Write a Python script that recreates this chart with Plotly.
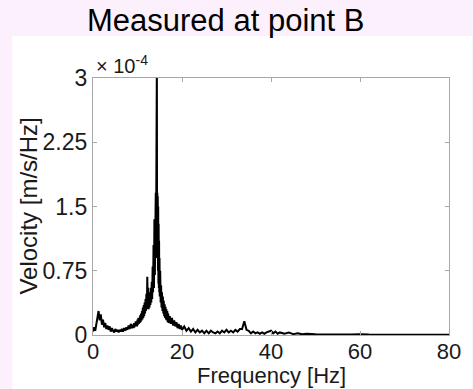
import plotly.graph_objects as go

# Frequency [Hz]
freq = [0.0, 0.25, 0.5, 0.75, 1.0, 1.25, 1.5, 1.75, 2.0, 2.25, 2.5, 2.75, 3.0, 3.25, 3.5, 3.75,
        4.0, 4.25, 4.5, 4.75, 5.0, 5.25, 5.5, 5.75, 6.0, 6.25, 6.5, 6.75, 7.0, 7.25, 7.5, 7.75,
        8.0, 8.25, 8.5, 8.75,
        9.0, 9.1, 9.2, 9.3, 9.4, 9.5, 9.6, 9.7, 9.8, 9.9,
        10.0, 10.1, 10.2, 10.3, 10.4, 10.5, 10.6, 10.7, 10.8, 10.9,
        11.0, 11.1, 11.2, 11.3, 11.4, 11.5, 11.6, 11.7, 11.8, 11.9,
        12.0, 12.1, 12.2, 12.3, 12.4, 12.5, 12.6, 12.7, 12.8, 12.9,
        13.0, 13.1, 13.2, 13.3, 13.4, 13.5, 13.6, 13.7, 13.8, 13.9,
        14.0, 14.05, 14.1, 14.15, 14.2, 14.25, 14.3, 14.35, 14.4, 14.45,
        14.5, 14.55, 14.6, 14.65, 14.7, 14.75, 14.8, 14.85, 14.9, 14.95,
        15.0, 15.1, 15.2, 15.3, 15.4, 15.5, 15.6, 15.7, 15.8, 15.9,
        16.0, 16.1, 16.2, 16.3, 16.4, 16.5, 16.6, 16.7, 16.8, 16.9, 17.0,
        17.25, 17.5, 17.75, 18.0, 18.25, 18.5, 18.75, 19.0, 19.25, 19.5, 19.75,
        20.0, 20.5, 21.0, 21.5, 22.0, 22.5, 23.0, 23.5, 24.0, 24.5, 25.0, 25.5, 26.0, 26.5, 27.0,
        27.5, 28.0, 28.5, 29.0, 29.5, 30.0, 30.5, 31.0, 31.5, 32.0, 32.5, 33.0, 33.5, 34.0, 34.5,
        35.0, 35.5, 36.0, 36.5, 37.0, 37.5, 38.0, 38.5, 39.0, 39.5, 40.0, 40.5, 41.0, 41.5, 42.0,
        43.0, 44.0, 45.0, 46.0, 47.0, 48.0, 50.0, 52.0, 55.0, 58.0, 60.0, 62.0, 65.0, 70.0, 75.0, 80.0]

# Velocity [m/s/Hz], in units of 1e-4
velocity = [0.04, 0.09, 0.05, 0.14, 0.22, 0.28, 0.17, 0.24, 0.12, 0.18, 0.09, 0.14, 0.07, 0.11, 0.06, 0.10,
            0.04, 0.08, 0.05, 0.03, 0.07, 0.04, 0.06, 0.03, 0.06, 0.04, 0.07, 0.04, 0.08, 0.05, 0.09, 0.06,
            0.11, 0.07, 0.13, 0.08,
            0.12, 0.08, 0.14, 0.09, 0.13, 0.10, 0.16, 0.11, 0.15, 0.10,
            0.18, 0.12, 0.20, 0.13, 0.19, 0.14, 0.23, 0.15, 0.25, 0.17,
            0.28, 0.18, 0.32, 0.20, 0.35, 0.22, 0.38, 0.25, 0.42, 0.28,
            0.48, 0.30, 0.68, 0.33, 0.55, 0.30, 0.50, 0.32, 0.47, 0.35,
            0.55, 0.38, 0.62, 0.42, 0.80, 0.50, 1.05, 0.55, 1.35, 0.70,
            1.60, 0.80, 1.66, 0.90, 1.64, 1.00, 1.67, 3.20, 1.10, 1.66,
            0.90, 1.62, 0.75, 1.50, 0.60, 1.30, 0.55, 1.10, 0.50, 0.90,
            0.45, 0.75, 0.38, 0.58, 0.32, 0.50, 0.28, 0.45, 0.25, 0.40,
            0.22, 0.36, 0.20, 0.33, 0.18, 0.30, 0.17, 0.28, 0.15, 0.25, 0.14,
            0.22, 0.13, 0.20, 0.11, 0.17, 0.10, 0.15, 0.08, 0.13, 0.07, 0.11,
            0.06, 0.10, 0.05, 0.08, 0.04, 0.07, 0.03, 0.06, 0.03, 0.05, 0.02, 0.05, 0.02, 0.05, 0.03,
            0.02, 0.04, 0.02, 0.05, 0.03, 0.06, 0.03, 0.05, 0.03, 0.06, 0.04, 0.07, 0.07, 0.16, 0.06,
            0.05, 0.02, 0.04, 0.02, 0.03, 0.015, 0.03, 0.015, 0.03, 0.04, 0.05, 0.02, 0.04, 0.015, 0.03,
            0.015, 0.03, 0.01, 0.02, 0.008, 0.015, 0.008, 0.01, 0.006, 0.006, 0.01, 0.005, 0.004, 0.004, 0.003, 0.003]

x_ticks = [0, 20, 40, 60, 80]
y_ticks = [0, 0.75, 1.5, 2.25, 3]
y_ticklabels = ["0", "0.75", "1.5", "2.25", "3"]

title_text = "Measured at point B"
x_title = "Frequency [Hz]"
y_title = "Velocity [m/s/Hz]"
exponent_text = "× 10<sup>-4</sup>"

W, H = 473, 389
L, R, T, B = 93, 18, 78, 54
pw, ph = W - L - R, H - T - B

def px(xpix):
    return (xpix - L) / pw

def py(ypix):
    return (H - B - ypix) / ph

FONT = "Liberation Sans, Arial, sans-serif"
AXC = "#a8a8a8"
TXC = "#1a1a1a"

fig = go.Figure()
fig.add_trace(go.Scatter(x=freq, y=velocity, mode="lines",
                         line=dict(color="black", width=2), showlegend=False,
                         hoverinfo="skip"))

fig.update_layout(
    width=W, height=H,
    margin=dict(l=L, r=R, t=T, b=B, pad=0),
    paper_bgcolor="#fcf0fc",
    plot_bgcolor="white",
    font=dict(family=FONT, color=TXC),
    shapes=[dict(type="rect", xref="paper", yref="paper",
                 x0=px(11), x1=px(W + 5), y0=py(H + 5), y1=py(36),
                 fillcolor="white", line=dict(width=0), layer="below")],
    xaxis=dict(range=[0, 80], tickvals=x_ticks, ticks="inside", ticklen=4,
               tickcolor=AXC, showline=True, linecolor=AXC, linewidth=1.2,
               mirror="ticks", showgrid=False, zeroline=False,
               ticklabelstandoff=-4,
               tickfont=dict(size=22, family=FONT, color=TXC)),
    yaxis=dict(range=[0, 3], tickvals=y_ticks, ticktext=y_ticklabels,
               ticks="inside", ticklen=4, tickcolor=AXC, showline=True,
               linecolor=AXC, linewidth=1.2, mirror="ticks", showgrid=False,
               zeroline=False, tickfont=dict(size=23, family=FONT, color=TXC)),
    annotations=[
        dict(text=title_text, xref="paper", yref="paper", x=px(228), y=py(21),
             xanchor="center", yanchor="middle", showarrow=False,
             font=dict(size=31, family=FONT, color="black")),
        dict(text=x_title, xref="paper", yref="paper", x=0.5, y=py(375),
             xanchor="center", yanchor="middle", showarrow=False,
             font=dict(size=22, family=FONT, color=TXC)),
        dict(text=y_title, xref="paper", yref="paper", x=px(27), y=0.5,
             xanchor="center", yanchor="middle", textangle=-90, showarrow=False,
             font=dict(size=24, family=FONT, color=TXC)),
        dict(text=exponent_text, xref="paper", yref="paper", x=px(94), y=py(65),
             xanchor="left", yanchor="middle", showarrow=False,
             font=dict(size=20, family=FONT, color=TXC)),
    ],
)

fig.write_html("out.html")
